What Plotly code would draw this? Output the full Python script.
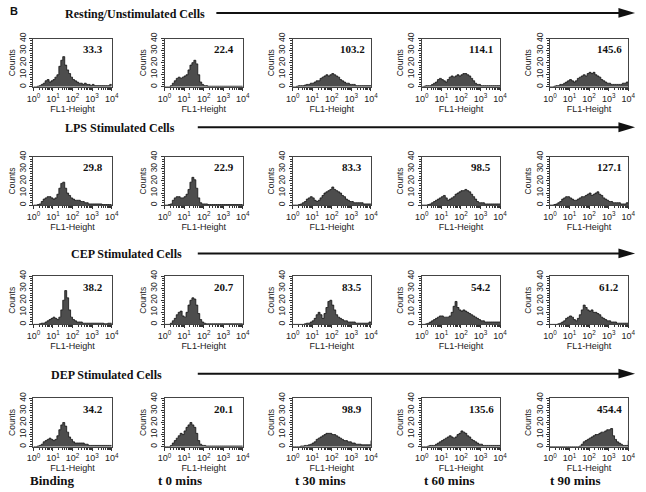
import plotly.graph_objs as go

# channel positions in decades (log10 of FL1-Height), 0.1 decade bins
decades = [0.0, 0.1, 0.2, 0.3, 0.4, 0.5, 0.6, 0.7, 0.8, 0.9,
           1.0, 1.1, 1.2, 1.3, 1.4, 1.5, 1.6, 1.7, 1.8, 1.9,
           2.0, 2.1, 2.2, 2.3, 2.4, 2.5, 2.6, 2.7, 2.8, 2.9,
           3.0, 3.1, 3.2, 3.3, 3.4, 3.5, 3.6, 3.7, 3.8, 3.9, 4.0]

row_titles = ["Resting/Unstimulated Cells", "LPS Stimulated Cells",
              "CEP Stimulated Cells", "DEP Stimulated Cells"]
col_titles = ["Binding", "t 0 mins", "t 30 mins", "t 60 mins", "t 90 mins"]

# mean fluorescence printed in each panel
resting_mfi = ["33.3", "22.4", "103.2", "114.1", "145.6"]
lps_mfi = ["29.8", "22.9", "83.3", "98.5", "127.1"]
cep_mfi = ["38.2", "20.7", "83.5", "54.2", "61.2"]
dep_mfi = ["34.2", "20.1", "98.9", "135.6", "454.4"]

# counts per channel
resting_binding = [0, 0, 0.5, 1, 2, 3, 5, 6, 4, 5, 6, 8, 10, 17, 22, 25, 18, 14, 11, 8,
                   6, 5, 4, 3, 3, 2, 3, 2, 2, 1, 2, 1, 1, 1, 1, 1, 1, 1, 1, 2, 1]
resting_t0 = [0, 0, 0, 1, 3, 5, 7, 8, 7, 8, 9, 10, 14, 18, 20, 22, 19, 10, 4, 2,
              1, 1, 0.5, 0.5, 0.5, 0.5, 0.5, 0.5, 0.5, 0.5, 0.5, 0.5, 0.5, 0.5, 0.5, 0.5, 0.5, 0.5, 0.5, 0.5, 0.5]
resting_t30 = [0, 0, 0.5, 1, 1, 1, 1.5, 2, 2, 3, 3, 4, 5, 5, 7, 8, 9, 10, 9, 10,
               11, 10, 9, 8, 6, 5, 4, 3, 3, 2, 2, 2, 1, 1, 1, 1, 1, 1, 1, 1, 0.5]
resting_t60 = [0, 0.5, 1, 1, 1, 2, 3, 4, 6, 7, 6, 5, 4, 6, 8, 9, 8, 9, 10, 9,
               10, 11, 11, 10, 9, 7, 5, 3, 2, 2, 1, 1, 1, 1, 1, 1, 1, 1, 1, 1, 1]
resting_t90 = [0, 0, 0.5, 1, 1, 2, 2, 3, 4, 5, 6, 5, 4, 5, 7, 8, 9, 10, 9, 11,
               12, 11, 12, 10, 9, 8, 6, 5, 4, 3, 3, 2, 2, 2, 2, 2, 2, 3, 3, 4, 3]

lps_binding = [0, 0, 0.5, 1, 3, 5, 6, 7, 7, 6, 5, 6, 9, 14, 18, 19, 14, 10, 8, 6,
               5, 4, 4, 4, 3, 3, 2, 2, 1, 1, 1, 1, 1, 1, 1, 0.5, 0.5, 0.5, 0.5, 0.5, 0.5]
lps_t0 = [0, 0, 0.5, 1, 4, 6, 7, 7, 6, 6, 7, 9, 13, 19, 23, 21, 14, 6, 2, 1,
          1, 1, 0.5, 0.5, 0.5, 0.5, 0.5, 0.5, 0.5, 0.5, 0.5, 0.5, 0.5, 0.5, 0.5, 0.5, 0.5, 0.5, 0.5, 0.5, 0.5]
lps_t30 = [0, 0, 0, 0.5, 1, 2, 3, 5, 6, 7, 6, 4, 3, 4, 6, 8, 10, 11, 12, 13,
           15, 13, 12, 11, 10, 8, 7, 5, 4, 3, 3, 2, 2, 2, 2, 2, 1, 1, 1, 1, 1]
lps_t60 = [0, 0, 0, 0.5, 1, 2, 3, 4, 5, 6, 7, 8, 6, 4, 5, 6, 7, 9, 10, 11,
           12, 12, 13, 12, 11, 9, 7, 5, 3, 2, 2, 2, 1, 1, 1, 1, 1, 1, 1, 1, 1]
lps_t90 = [0, 0, 0.5, 1, 2, 3, 5, 6, 7, 7, 6, 5, 4, 4, 5, 6, 7, 7, 8, 9,
           10, 8, 9, 10, 11, 9, 8, 6, 5, 4, 3, 3, 2, 2, 2, 2, 1, 1, 1, 2, 1]

cep_binding = [0, 0, 0, 0.5, 1, 1, 2, 3, 4, 5, 6, 5, 4, 6, 12, 20, 28, 22, 12, 6,
               4, 3, 2, 2, 2, 1, 1, 1, 1, 1, 1, 1, 1, 1, 1, 1, 0.5, 0.5, 1, 1, 0.5]
cep_t0 = [0, 0, 0, 1, 3, 5, 8, 10, 11, 7, 6, 10, 16, 20, 22, 21, 16, 9, 4, 2,
          1, 0.5, 0.5, 0.5, 0.5, 0.5, 0.5, 0.5, 0.5, 0.5, 0.5, 0.5, 0.5, 0.5, 0.5, 0.5, 0.5, 0.5, 0.5, 0.5, 0.5]
cep_t30 = [0, 0, 0, 0, 0, 0, 0.5, 1, 1, 2, 3, 5, 8, 10, 8, 5, 9, 14, 19, 20,
           16, 12, 8, 6, 5, 4, 3, 3, 2, 2, 2, 2, 1, 1, 1, 1, 1, 1, 1, 2, 1]
cep_t60 = [0, 0, 0.5, 1, 2, 3, 4, 5, 6, 7, 7, 6, 6, 6, 7, 10, 15, 19, 14, 12,
           11, 12, 11, 10, 9, 8, 7, 6, 5, 4, 3, 3, 2, 2, 2, 2, 2, 2, 2, 2, 2]
cep_t90 = [0, 0, 0, 0, 0.5, 1, 2, 3, 5, 6, 7, 6, 4, 3, 5, 8, 12, 16, 14, 12,
           11, 12, 10, 10, 9, 8, 6, 5, 4, 3, 3, 2, 2, 2, 1, 1, 1, 1, 1, 1, 1]

dep_binding = [0, 0, 0.5, 1, 2, 4, 5, 6, 7, 6, 5, 6, 9, 14, 18, 20, 17, 12, 8, 6,
               4, 3, 3, 3, 3, 3, 2, 2, 1, 1, 1, 1, 1, 1, 1, 1, 1, 1, 1, 1, 1]
dep_t0 = [0, 0, 0, 1, 3, 5, 7, 9, 11, 10, 13, 16, 18, 20, 18, 16, 11, 5, 2, 1,
          1, 0.5, 0.5, 0.5, 0.5, 0.5, 0.5, 0.5, 0.5, 0.5, 0.5, 0.5, 0.5, 0.5, 0.5, 0.5, 0.5, 0.5, 0.5, 0.5, 0.5]
dep_t30 = [0, 0, 0, 0, 0.5, 0.5, 1, 1, 1.5, 2, 3, 4, 6, 7, 8, 9, 10, 11, 11, 11,
           10, 10, 9, 8, 7, 6, 5, 5, 4, 4, 3, 3, 2, 2, 2, 1.5, 1.5, 1.5, 1.5, 1.5, 5]
dep_t60 = [0, 0, 0, 0.5, 1, 1, 1, 2, 3, 4, 5, 6, 7, 8, 9, 8, 7, 8, 10, 11,
           13, 12, 11, 9, 8, 6, 5, 4, 3, 2, 2, 1, 1, 1, 1, 1, 1, 1, 1, 1, 1]
dep_t90 = [0, 0, 0, 0, 0, 0, 0, 0, 0, 0, 0, 0, 0, 0, 0, 0.5, 2, 4, 5, 6,
           7, 8, 9, 10, 10, 11, 12, 12, 13, 14, 14, 15, 9, 6, 4, 3, 2, 1, 1, 1, 5]

histograms = [
    [resting_binding, resting_t0, resting_t30, resting_t60, resting_t90],
    [lps_binding, lps_t0, lps_t30, lps_t60, lps_t90],
    [cep_binding, cep_t0, cep_t30, cep_t60, cep_t90],
    [dep_binding, dep_t0, dep_t30, dep_t60, dep_t90],
]
mfi = [resting_mfi, lps_mfi, cep_mfi, dep_mfi]

W, H = 646, 492

def fx(px):
    return px / W

def fy(py):
    return 1 - py / H

# panel boxes in pixels
col_left = [27, 161, 292, 424, 555]
col_width = 80
row_top = [33, 153, 274, 398]
row_height = 49

title_y = [8, 124, 252, 374]
title_x = [131, 116, 122, 102]
arrow_start = [214, 195, 195, 195]
label_x = [47, 177, 320, 452, 581]

fig = go.Figure()
annotations = []
shapes = []
x_vals = [10 ** d for d in decades]
serif = "Liberation Serif"
small = {"size": 9, "family": "Arial", "color": "#222"}

n = 0
for r in range(4):
    for c in range(5):
        n += 1
        xa = "x" if n == 1 else "x%d" % n
        ya = "y" if n == 1 else "y%d" % n
        fig.add_trace(
            go.Scatter(
                x=x_vals,
                y=histograms[r][c],
                mode="lines",
                line={"color": "#111111", "width": 0.8, "shape": "hv"},
                fill="tozeroy",
                fillcolor="#4d4d4d",
                xaxis=xa,
                yaxis=ya,
                showlegend=False,
                hoverinfo="skip",
            )
        )
        x0 = col_left[c]
        y0 = row_top[r]
        fig.update_layout(**{
            ("xaxis" if n == 1 else "xaxis%d" % n): dict(
                domain=[fx(x0), fx(x0 + col_width)],
                anchor=ya,
                type="log",
                range=[0, 4],
                tickmode="array",
                tickvals=[1, 10, 100, 1000, 10000],
                ticktext=["10<sup>0</sup>", "10<sup>1</sup>", "10<sup>2</sup>",
                          "10<sup>3</sup>", "10<sup>4</sup>"],
                tickfont=small,
                ticks="outside", ticklen=3, tickcolor="#333",
                minor={"ticks": "outside", "ticklen": 2, "dtick": "D1", "tickcolor": "#333"},
                title={"text": "FL1-Height", "font": small, "standoff": 0},
                showline=True, mirror=True, linecolor="#444", linewidth=1,
                showgrid=False, zeroline=False,
            ),
            ("yaxis" if n == 1 else "yaxis%d" % n): dict(
                domain=[fy(y0 + row_height), fy(y0)],
                anchor=xa,
                range=[0, 40],
                tickvals=[0, 10, 20, 30, 40],
                tickangle=-90,
                tickfont={"size": 8.5, "family": "Arial", "color": "#222"},
                ticks="outside", ticklen=3, tickcolor="#333",
                minor={"ticks": "outside", "ticklen": 2, "dtick": 2, "tickcolor": "#333"},
                title={"text": "Counts", "font": {"size": 8.5, "family": "Arial", "color": "#222"},
                       "standoff": 1},
                showline=True, mirror=True, linecolor="#444", linewidth=1,
                showgrid=False, zeroline=False,
            ),
        })
        annotations.append(dict(
            text="<b>%s</b>" % mfi[r][c],
            xref=xa + " domain", yref=ya + " domain",
            x=0.76, y=0.78, xanchor="center", yanchor="middle",
            showarrow=False,
            font={"size": 11, "family": serif, "color": "#111"},
        ))

    # row heading and time arrow
    annotations.append(dict(
        text="<b>%s</b>" % row_titles[r],
        xref="paper", yref="paper", x=fx(title_x[r]), y=fy(title_y[r]),
        xanchor="center", yanchor="middle", showarrow=False,
        font={"size": 12, "family": serif, "color": "#111"},
    ))
    ay = title_y[r] - 1
    shapes.append(dict(type="line", xref="paper", yref="paper",
                       x0=fx(arrow_start[r]), x1=fx(628), y0=fy(ay), y1=fy(ay),
                       line={"color": "#111", "width": 2}))
    shapes.append(dict(type="path", xref="paper", yref="paper",
                       path="M %f %f L %f %f L %f %f Z" % (fx(625), fy(ay - 5), fx(642), fy(ay),
                                                           fx(625), fy(ay + 5)),
                       fillcolor="#111", line={"color": "#111", "width": 0}))

# time point labels along the bottom
for c in range(5):
    annotations.append(dict(
        text="<b>%s</b>" % col_titles[c],
        xref="paper", yref="paper", x=fx(label_x[c]), y=fy(481),
        xanchor="center", yanchor="middle", showarrow=False,
        font={"size": 13, "family": serif, "color": "#111"},
    ))

annotations.append(dict(
    text="<b>B</b>", xref="paper", yref="paper", x=fx(1), y=fy(5),
    xanchor="left", yanchor="middle", showarrow=False,
    font={"size": 11, "family": "Arial", "color": "#111"},
))

fig.update_layout(
    width=W,
    height=H,
    margin={"t": 0, "l": 0, "r": 0, "b": 0},
    paper_bgcolor="white",
    plot_bgcolor="white",
    annotations=annotations,
    shapes=shapes,
    showlegend=False,
)

fig.write_html("out.html", config={"displayModeBar": False},
               post_script="document.body.style.margin='0px';")
